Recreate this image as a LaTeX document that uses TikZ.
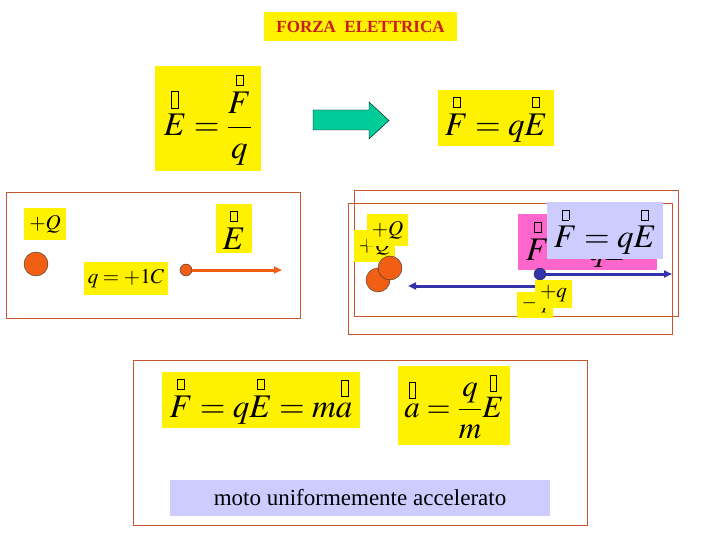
\documentclass[tikz,border=0pt]{standalone}
\usepackage{amsmath}
\usepackage{mathptmx}
\usepackage[no-math]{fontspec}
\setmainfont{Liberation Serif}
\usetikzlibrary{arrows.meta}
\definecolor{bordo}{RGB}{200,85,50}
\definecolor{arancio}{RGB}{240,95,20}
\definecolor{blu}{RGB}{50,50,170}
\definecolor{magenta2}{RGB}{255,102,204}
\definecolor{lilla}{RGB}{204,204,255}
\definecolor{verde}{RGB}{0,204,153}
\definecolor{rosso}{RGB}{200,30,30}
\newcommand{\sz}[1]{\fontsize{#1}{#1}\selectfont}
\setlength{\fboxsep}{0pt}
\newcommand{\tofu}[1][0.3em]{\fbox{\rule{0pt}{#1}\hspace{0.2em}}}
\newcommand{\tvec}[2][0.3em]{\overset{\tofu[#1]}{#2}}
\begin{document}
\begin{tikzpicture}[x=1pt,y=-1pt,>={Triangle[length=8pt,width=7pt]},
	ybox/.style={fill=yellow,inner sep=0pt},
	cornice/.style={draw=bordo,line width=0.9pt},
	carica/.style={circle,draw=black!80,fill=arancio,minimum size=24pt,inner sep=0pt}]
	\useasboundingbox (0,0) rectangle (720,540);
	% titolo e definizioni
	\node[ybox,minimum width=193pt,minimum height=29pt,text=rosso,font=\bfseries\sz{17}] (titolo) at (360.5,26.5) {FORZA\ \ ELETTRICA};
	\node[ybox,minimum width=106pt,minimum height=105pt,font=\sz{33}] (defE) at (208,118.5) {$\tvec[0.5em]{E}=\dfrac{\tvec{F}}{q}$};
	\draw[fill=verde] (313,110)--(369,110)--(369,102)--(389,120.5)--(369,139)--(369,130)--(313,130)--cycle;
	\node[ybox,minimum width=116pt,minimum height=56pt,font=\sz{33}] (forza) at (496,118) {$\tvec{F}=q\tvec{E}$};
	% campo della carica Q
	\draw[cornice] (6,192) rectangle (300,318);
	\node[ybox,minimum width=42pt,minimum height=32pt,font=\sz{21}] (Q) at (45,224) {$+Q$};
	\node[carica] (sfQ) at (36,264) {};
	\node[ybox,minimum width=84pt,minimum height=33pt,font=\sz{21}] (q1C) at (126,278.5) {$q=+1C$};
	\node[ybox,minimum width=36pt,minimum height=49pt,font=\sz{33}] (campoE) at (234,228.5) {$\tvec{E}$};
	\node[carica,minimum size=12pt] (prova) at (186,270) {};
	\coordinate (fineE) at (282,270);
	\draw[->,arancio,line width=3pt] (prova) -- (fineE);
	% forza su cariche positive e negative
	\draw[cornice] (354,190) rectangle (678,316);
	\draw[cornice] (348,203) rectangle (672,334);
	\node[ybox,minimum width=41pt,minimum height=32pt,font=\sz{21}] (Qb) at (374.5,246) {$+Q$};
	\node[ybox,minimum width=41pt,minimum height=32pt,font=\sz{21}] (Qa) at (387.5,230) {$+Q$};
	\node[carica] (sfQb) at (378,280) {};
	\node[carica] (sfQa) at (390,268) {};
	\node[fill=magenta2,minimum width=139pt,minimum height=56pt] (fmag) at (587.5,242) {};
	\node[inner sep=0pt,font=\sz{33}] (fmagt) at (577,243) {$\tvec{F}=q\tvec{E}$};
	\node[fill=lilla,minimum width=116pt,minimum height=57pt,font=\sz{33}] (flil) at (605,230.5) {$\tvec{F}=q\tvec{E}$};
	\coordinate (finedx) at (672,274);
	\coordinate (inisx) at (535,286);
	\coordinate (finesx) at (408,286);
	\draw[->,blu,line width=3pt] (inisx) -- (finesx);
	\node[circle,draw=black!80,fill=blu,minimum size=12pt,inner sep=0pt] (qp) at (540,274) {};
	\draw[->,blu,line width=3pt] (qp) -- (finedx);
	\node[ybox,minimum width=36pt,minimum height=26pt,font=\sz{21}] (qneg) at (535,305) {$-q$};
	\node[ybox,minimum width=37pt,minimum height=28pt,font=\sz{21}] (qpos) at (553.5,294) {$+q$};
	% seconda legge della dinamica
	\draw[cornice] (133,360) rectangle (587,525);
	\node[ybox,minimum width=198pt,minimum height=56pt,font=\sz{33}] (newton) at (261,400) {$\tvec{F}=q\tvec{E}=m\tvec[0.5em]{a}$};
	\node[ybox,minimum width=112pt,minimum height=79pt,font=\sz{31}] (acc) at (454,405.5) {$\tvec[0.5em]{a}=\dfrac{q}{m}\tvec[0.5em]{E}$};
	\node[fill=lilla,minimum width=380pt,minimum height=36pt,font=\sz{23}] (moto) at (360,498) {moto uniformemente accelerato};
\end{tikzpicture}
\end{document}
